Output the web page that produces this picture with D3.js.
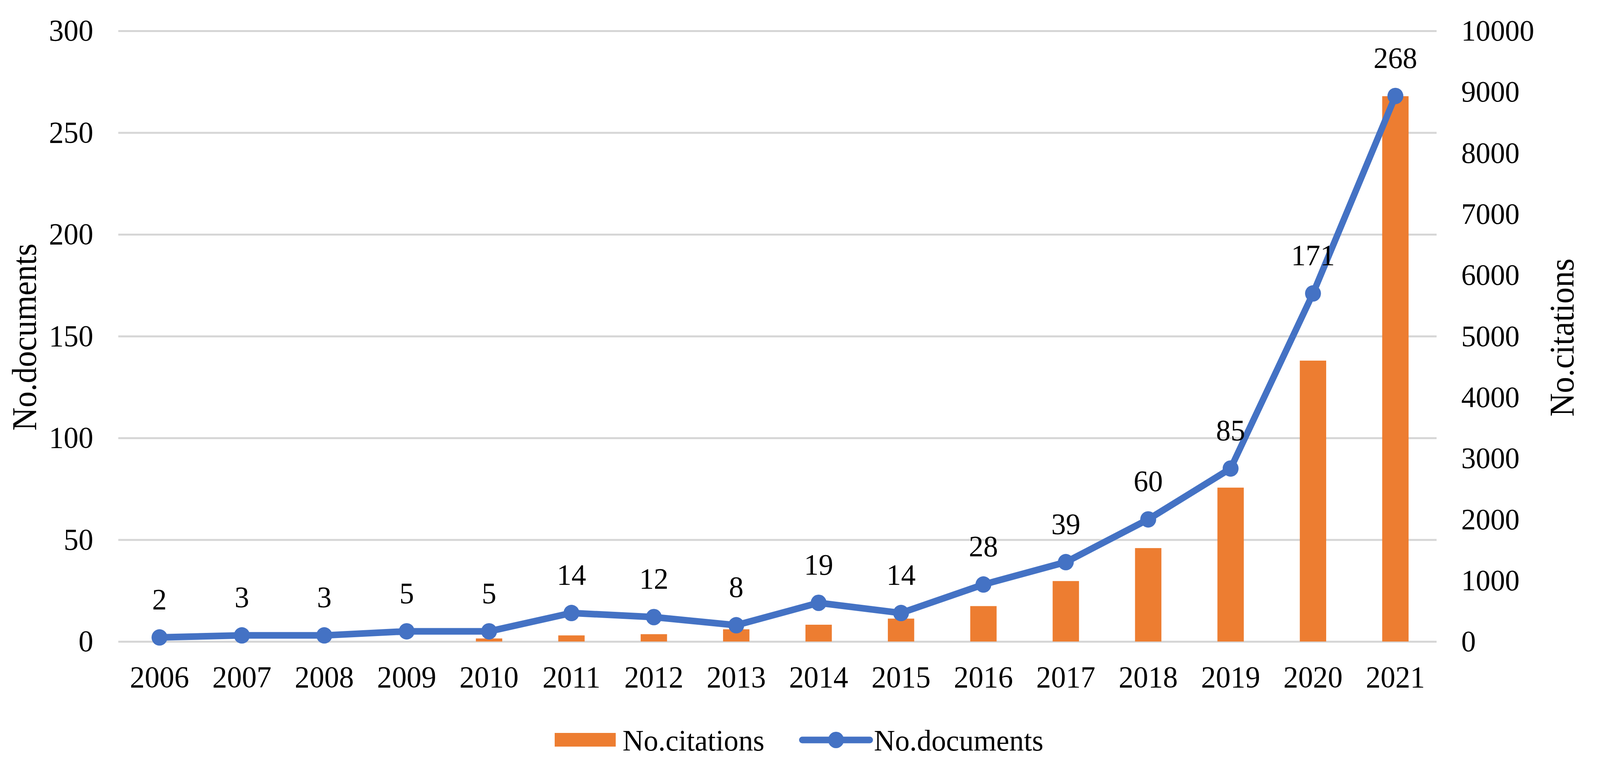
<!DOCTYPE html>
<html>
<head>
<meta charset="utf-8">
<script src="https://cdn.jsdelivr.net/npm/d3@7"></script>
<style>
  html, body { margin: 0; padding: 0; background: #fff; overflow: hidden; }
  svg { display: block; width: 100vw; height: 100vh; }
</style>
</head>
<body>
<svg id="chart" viewBox="0 0 4220 1976" preserveAspectRatio="none"></svg>
<script>
// data
const years = ["2006", "2007", "2008", "2009", "2010", "2011", "2012", "2013",
  "2014", "2015", "2016", "2017", "2018", "2019", "2020", "2021"];
const documents = [2, 3, 3, 5, 5, 14, 12, 8, 19, 14, 28, 39, 60, 85, 171, 268];
const citations = [0, 0, 0, 0, 50, 100, 120, 200, 275, 375, 580, 990, 1530, 2520, 4600, 8930];
const leftTicks = [0, 50, 100, 150, 200, 250, 300];
const rightTicks = [0, 1000, 2000, 3000, 4000, 5000, 6000, 7000, 8000, 9000, 10000];

const orange = "#ED7D31";
const blue = "#4472C4";
const font = "'Liberation Serif', 'Times New Roman', serif";

const margin = { left: 312, right: 431, top: 79, bottom: 334 };
const width = 4220 - margin.left - margin.right;
const height = 1976 - margin.top - margin.bottom;

const svgEl = d3.select("#chart");
const svg = svgEl.append("g")
  .attr("transform", `translate(${margin.left},${margin.top})`)
  .style("font-family", font);

// scales
const xScale = d3.scaleBand()
  .domain(years)
  .range([0, width])
  .paddingInner(0.68)
  .paddingOuter(0.34);
const xCenter = (d) => xScale(d) + xScale.bandwidth() / 2;
const yLeft = d3.scaleLinear().domain([0, 300]).range([height, 0]);
const yRight = d3.scaleLinear().domain([0, 10000]).range([height, 0]);

// left axis with grid lines
const yAxisGroup = svg.append("g")
  .call(d3.axisLeft(yLeft).tickValues(leftTicks).tickSize(-width).tickPadding(66));
yAxisGroup.select(".domain").remove();
yAxisGroup.selectAll("line").attr("stroke", "#d6d6d6").attr("stroke-width", 5);
yAxisGroup.selectAll("text")
  .attr("font-size", 78).attr("font-family", font).attr("fill", "#000");

// right axis
const yRightGroup = svg.append("g")
  .attr("transform", `translate(${width},0)`)
  .call(d3.axisRight(yRight).tickValues(rightTicks).tickFormat(d3.format("d"))
    .tickSize(0).tickPadding(65));
yRightGroup.select(".domain").remove();
yRightGroup.selectAll("text")
  .attr("font-size", 77).attr("font-family", font).attr("fill", "#000");

// x axis labels
const xAxisGroup = svg.append("g")
  .attr("transform", `translate(0,${height})`)
  .call(d3.axisBottom(xScale).tickSize(0).tickPadding(62));
xAxisGroup.select(".domain").remove();
xAxisGroup.selectAll("text")
  .attr("font-size", 78).attr("font-family", font).attr("fill", "#000");

// axis titles (page pixels), slightly condensed like the original
const titles = svgEl.append("g").style("font-family", font);
titles.append("text")
  .attr("transform", "translate(95,863) rotate(-90)")
  .attr("text-anchor", "middle")
  .attr("font-size", 92)
  .attr("textLength", 479)
  .attr("lengthAdjust", "spacingAndGlyphs")
  .text("No.documents");
titles.append("text")
  .attr("transform", "translate(4150,864) rotate(-90)")
  .attr("text-anchor", "middle")
  .attr("font-size", 92)
  .attr("textLength", 405)
  .attr("lengthAdjust", "spacingAndGlyphs")
  .text("No.citations");

// bars
svg.selectAll(".bar")
  .data(citations)
  .enter()
  .append("rect")
  .attr("class", "bar")
  .attr("x", (d, i) => xScale(years[i]))
  .attr("y", (d) => yRight(d))
  .attr("width", xScale.bandwidth())
  .attr("height", (d) => height - yRight(d))
  .attr("fill", orange);

// line
const line = d3.line()
  .x((d, i) => xCenter(years[i]))
  .y((d) => yLeft(d));
svg.append("path")
  .datum(documents)
  .attr("fill", "none")
  .attr("stroke", blue)
  .attr("stroke-width", 17)
  .attr("stroke-linejoin", "round")
  .attr("d", line);
svg.selectAll(".dot")
  .data(documents)
  .enter()
  .append("circle")
  .attr("cx", (d, i) => xCenter(years[i]))
  .attr("cy", (d) => yLeft(d))
  .attr("r", 21)
  .attr("fill", blue);

// data labels
svg.selectAll(".label")
  .data(documents)
  .enter()
  .append("text")
  .attr("x", (d, i) => xCenter(years[i]))
  .attr("y", (d) => yLeft(d) - 72)
  .attr("text-anchor", "middle")
  .attr("font-size", 77)
  .text((d) => d);

// legend
const legend = svgEl.append("g").style("font-family", font);
legend.append("rect")
  .attr("x", 1463).attr("y", 1876).attr("width", 161).attr("height", 35)
  .attr("fill", orange);
legend.append("text")
  .attr("x", 1642).attr("y", 1921).attr("font-size", 77)
  .text("No.citations");
legend.append("line")
  .attr("x1", 2116).attr("x2", 2294).attr("y1", 1894).attr("y2", 1894)
  .attr("stroke", blue).attr("stroke-width", 17).attr("stroke-linecap", "round");
legend.append("circle")
  .attr("cx", 2205).attr("cy", 1894).attr("r", 21).attr("fill", blue);
legend.append("text")
  .attr("x", 2305).attr("y", 1921).attr("font-size", 77)
  .text("No.documents");
</script>
</body>
</html>
